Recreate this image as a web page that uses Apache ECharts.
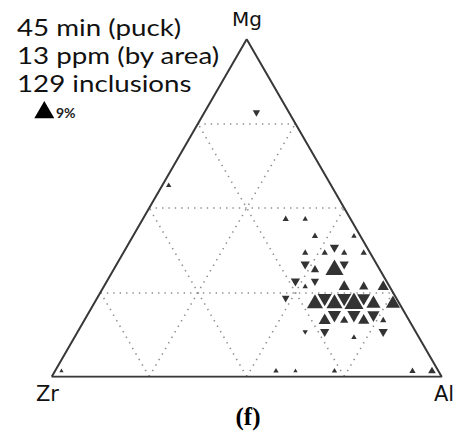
<!DOCTYPE html>
<html><head><meta charset="utf-8">
<script src="https://cdn.jsdelivr.net/npm/echarts@6/dist/echarts.min.js"></script>
<style>html,body{margin:0;padding:0;background:#fff;}#c{width:456px;height:432px;}</style>
</head><body><div id="c"></div>
<script>
// ---- data ----
const cornerLabels = ['Mg', 'Zr', 'Al'];          // top, bottom-left, bottom-right
const gridLevels = [25, 50, 75];                  // % grid lines in each direction
const notes = ['45 min (puck)', '13 ppm (by area)', '129 inclusions'];
const legendShare = 9;                            // % shown by the legend triangle
const legendLabel = '9%';
const caption = '(f)';

// Upward cells: [Al %, Mg %, share %]  (Zr = 100 - Al - Mg)
const upCells = [
  [1.67, 1.67, 0.2], [56.67, 1.67, 0.4], [61.67, 1.67, 0.2], [71.67, 1.67, 0.4], [91.67, 1.67, 0.6], [96.67, 1.67, 1.0],
  [71.67, 11.67, 0.4],
  [61.67, 16.67, 3.0], [66.67, 16.67, 1.2], [71.67, 16.67, 2.5], [76.67, 16.67, 0.6],
  [56.67, 21.67, 5.6], [61.67, 21.67, 5.6], [66.67, 21.67, 8.1], [71.67, 21.67, 4.2], [76.67, 21.67, 4.2],
  [51.67, 26.67, 0.4], [61.67, 26.67, 2.5], [66.67, 26.67, 1.6], [71.67, 26.67, 2.5],
  [51.67, 31.67, 1.2], [56.67, 31.67, 7.2],
  [46.67, 36.67, 0.6], [51.67, 36.67, 0.6], [56.67, 36.67, 0.6], [61.67, 36.67, 0.6],
  [46.67, 41.67, 0.6], [56.67, 41.67, 0.4],
  [36.67, 46.67, 0.6], [41.67, 46.67, 0.4],
  [1.67, 56.67, 0.4]
];
// Downward cells: [Al %, Mg %, share %]
const downCells = [
  [58.33, 13.33, 0.4], [63.33, 13.33, 1.6], [78.33, 13.33, 1.6],
  [63.33, 18.33, 3.6], [68.33, 18.33, 3.6], [73.33, 18.33, 3.0],
  [48.33, 23.33, 1.0], [58.33, 23.33, 4.2], [63.33, 23.33, 4.2], [68.33, 23.33, 3.6],
  [48.33, 28.33, 1.6], [53.33, 28.33, 1.2],
  [48.33, 33.33, 1.6], [58.33, 33.33, 1.6],
  [53.33, 38.33, 1.6],
  [13.33, 78.33, 0.9]
];

// ---- helpers ----
const H = Math.sqrt(3) / 2;
function toXY(al, mg) { return [al + mg / 2, mg * H]; }
function sizeOf(share) { const w = 1.5 + 18.5 * Math.sqrt(share / legendShare); return [w, w * H]; }

function cellItems(cells, up) {
  return cells.map(c => {
    const s = sizeOf(c[2]);
    return { value: toXY(c[0], c[1]).concat([c[2]]), symbolSize: s, symbolOffset: [0, up ? -s[1] / 6 : s[1] / 6] };
  });
}

const gridSegs = [];
gridLevels.forEach(k => {
  gridSegs.push({ coords: [toXY(0, k), toXY(100 - k, k)] });       // Mg = k
  gridSegs.push({ coords: [toXY(k, 0), toXY(k, 100 - k)] });       // Al = k
  gridSegs.push({ coords: [toXY(100 - k, 0), toXY(0, 100 - k)] }); // Zr = k
});
const outline = [toXY(0, 0), toXY(100, 0), toXY(0, 100), toXY(0, 0)];

// fit the note block width (widest line ~203 px in the reference)
const ctx = document.createElement('canvas').getContext('2d');
const NOTE_FONT = 23;
ctx.font = NOTE_FONT + 'px "Lato"';
const noteScale = 203 / ctx.measureText(notes[1]).width;
const noteBaselines = [36, 64, 92];

const chart = echarts.init(document.getElementById('c'), null, { renderer: 'svg' });
const lw = sizeOf(legendShare);
const lx = 44.3, lb = 118.3;

const noteTexts = notes.map((t, i) => ({
  type: 'text', x: 17, y: noteBaselines[i] - 0.387 * NOTE_FONT, scaleX: noteScale,
  style: { text: t, fontFamily: 'Lato', fontSize: NOTE_FONT, fill: '#111', align: 'left', verticalAlign: 'middle' }
}));

chart.setOption({
  animation: false,
  backgroundColor: '#fff',
  grid: { left: 51.7, right: 14.3, top: 39.3, bottom: 55.3 },
  xAxis: { type: 'value', min: 0, max: 100, show: false },
  yAxis: { type: 'value', min: 0, max: 100 * H, show: false },
  series: [
    { type: 'lines', coordinateSystem: 'cartesian2d', silent: true, data: gridSegs,
      lineStyle: { color: '#8f8f8f', width: 1.6, type: [1.4, 5], opacity: 1 } },
    { type: 'line', data: outline, symbol: 'none', silent: true,
      lineStyle: { color: '#383838', width: 2 } },
    { type: 'scatter', symbol: 'triangle', data: cellItems(upCells, true),
      itemStyle: { color: '#000' }, emphasis: { disabled: true } },
    { type: 'scatter', symbol: 'triangle', symbolRotate: 180, data: cellItems(downCells, false),
      itemStyle: { color: '#000' }, emphasis: { disabled: true } }
  ],
  graphic: [
    { type: 'text', x: 247, y: 19, style: { text: cornerLabels[0], fontFamily: 'DejaVu Sans', fontSize: 20, fill: '#111', align: 'center', verticalAlign: 'middle' } },
    { type: 'text', x: 47.5, y: 394, style: { text: cornerLabels[1], fontFamily: 'DejaVu Sans', fontSize: 21, fill: '#111', align: 'center', verticalAlign: 'middle' } },
    { type: 'text', x: 444, y: 394, style: { text: cornerLabels[2], fontFamily: 'DejaVu Sans', fontSize: 21, fill: '#111', align: 'center', verticalAlign: 'middle' } },
    ...noteTexts,
    { type: 'polygon', shape: { points: [[lx - lw[0] / 2, lb], [lx + lw[0] / 2, lb], [lx, lb - lw[1]]] }, style: { fill: '#000' } },
    { type: 'text', x: 56, y: 112.5, style: { text: legendLabel, fontFamily: 'Lato', fontWeight: 'bold', fontSize: 14, fill: '#222', align: 'left', verticalAlign: 'middle' } },
    { type: 'text', x: 248, y: 416, style: { text: caption, fontFamily: 'Liberation Serif', fontWeight: 'bold', fontSize: 25, fill: '#000', align: 'center', verticalAlign: 'middle' } }
  ]
});
</script>
</body></html>
